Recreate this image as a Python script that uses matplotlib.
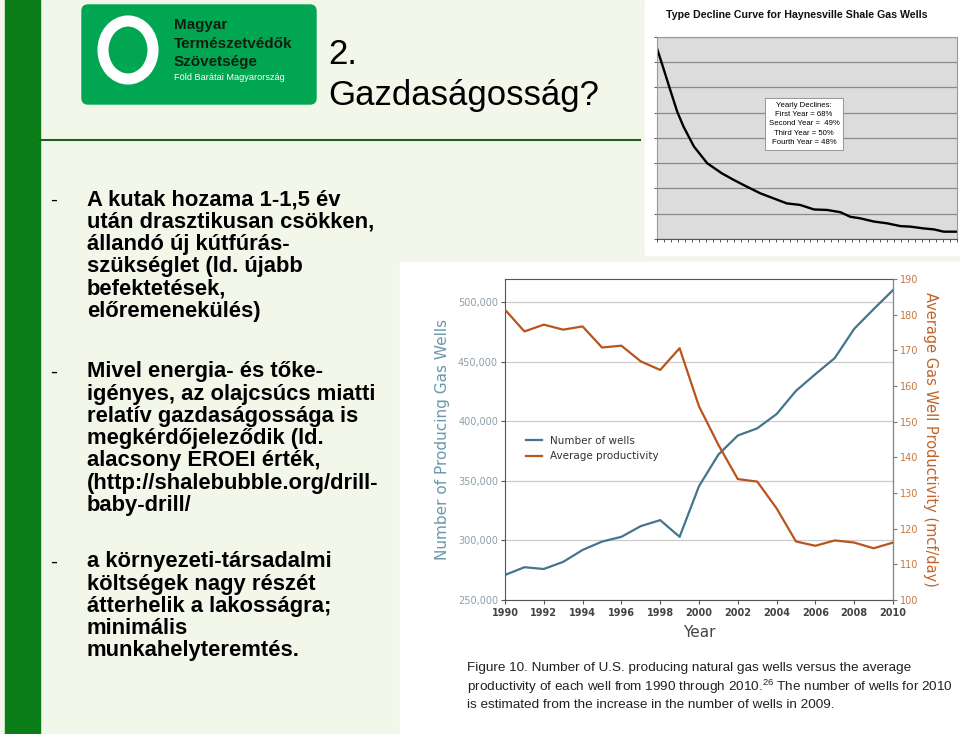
import matplotlib
matplotlib.use("Agg")
import matplotlib.pyplot as plt
from matplotlib.patches import Rectangle, FancyBboxPatch, Ellipse

plt.rcParams['font.family'] = ['Liberation Sans', 'DejaVu Sans']
plt.rcParams['mathtext.fontset'] = 'custom'
plt.rcParams['mathtext.rm'] = 'Liberation Sans'

# ---------------- data ----------------
years = list(range(1990, 2011))
num_wells = [271000, 277500, 276000, 282000, 292000, 299000, 303000, 312000, 317000,
             303000, 345500, 372000, 388000, 394000, 406000, 425500, 439500, 453000,
             477500, 494000, 510000]
avg_productivity = [181.4, 175.3, 177.2, 175.8, 176.7, 170.8, 171.3, 166.9, 164.5,
                    170.6, 154.3, 143.5, 133.9, 133.2, 125.7, 116.4, 115.2, 116.7,
                    116.1, 114.5, 116.1]
left_ticks = [250000, 300000, 350000, 400000, 450000, 500000]
right_ticks = [100, 110, 120, 130, 140, 150, 160, 170, 180, 190]
year_ticks = list(range(1990, 2011, 2))

decline_t = [0, 1, 1.9, 2.9, 3.8, 5.3, 7.2, 9.3, 11, 12.4, 14.8, 16.7, 18.6, 20.5,
             22.5, 24.4, 26.3, 27.7, 29.1, 31.1, 33, 34.9, 36.3, 38.2, 39.7, 41.1, 43]
decline_q = [7.55, 6.69, 5.9, 5.04, 4.45, 3.66, 3.0, 2.6, 2.34, 2.14, 1.81, 1.61, 1.41,
             1.35, 1.17, 1.15, 1.06, 0.88, 0.82, 0.69, 0.62, 0.51, 0.49, 0.42, 0.38,
             0.29, 0.29]
decline_box = "Yearly Declines:\nFirst Year = 68%\nSecond Year =  49%\nThird Year = 50%\nFourth Year = 48%"

bullets = [
    (200, ["A kutak hozama 1-1,5 év", "után drasztikusan csökken,", "állandó új kútfúrás-",
           "szükséglet (ld. újabb", "befektetések,", "előremenekülés)"]),
    (372, ["Mivel energia- és tőke-", "igényes, az olajcsúcs miatti", "relatív gazdaságossága is",
           "megkérdőjeleződik (ld.", "alacsony EROEI érték,", "(http://shalebubble.org/drill-",
           "baby-drill/"]),
    (562, ["a környezeti-társadalmi", "költségek nagy részét", "átterhelik a lakosságra;",
           "minimális", "munkahelyteremtés."]),
]
caption = ["Figure 10. Number of U.S. producing natural gas wells versus the average",
           r"productivity of each well from 1990 through 2010.$^{26}$ The number of wells for 2010",
           "is estimated from the increase in the number of wells in 2009."]

W, H = 960, 734
fig = plt.figure(figsize=(W / 100, H / 100), dpi=100)


def rect(x0, y0, x1, y1):
    return [x0 / W, 1 - y1 / H, (x1 - x0) / W, (y1 - y0) / H]


# ---------------- slide background ----------------
bg = fig.add_axes([0, 0, 1, 1])
bg.set_xlim(0, W)
bg.set_ylim(H, 0)
bg.axis('off')
bg.add_patch(Rectangle((0, 0), W, H, color='#f3f7ea', zorder=0))
bg.add_patch(Rectangle((5, 0), 35, H, color='#0b7d18', zorder=1))
bg.plot([40, 640], [140, 140], color='#1f5f1f', lw=1.5, zorder=1)

# logo
bg.add_patch(FancyBboxPatch((82, 5), 234, 99, boxstyle='round,pad=0,rounding_size=6',
                            color='#00a651', zorder=2))
bg.add_patch(Ellipse((128, 50), 50, 58, fill=False, ec='white', lw=8, zorder=3))
bg.text(174, 25, "Magyar", fontsize=11, fontweight='bold', color='#102010', va='center', zorder=4)
bg.text(174, 44, "Természetvédők", fontsize=11, fontweight='bold', color='#102010', va='center', zorder=4)
bg.text(174, 62, "Szövetsége", fontsize=11, fontweight='bold', color='#102010', va='center', zorder=4)
bg.text(174, 78, "Föld Barátai Magyarország", fontsize=6.6, color='white', va='center', zorder=4)

# title
bg.text(328, 55, "2.", fontsize=25, color='black', va='center', zorder=4)
bg.text(328, 95, "Gazdaságosság?", fontsize=25, color='black', va='center', zorder=4)

# bullets
for y0, lines in bullets:
    bg.text(50, y0, "-", fontsize=15, color='black', va='center', zorder=4)
    for i, ln in enumerate(lines):
        bg.text(87, y0 + i * 22.2, ln, fontsize=15.8, fontweight='bold', color='black',
                va='center', zorder=4)

# white panels
bg.add_patch(Rectangle((645, 0), W - 645, 255, color='white', zorder=2))
bg.add_patch(Rectangle((400, 262), W - 400, H - 262, color='white', zorder=5))

# caption
for i, ln in enumerate(caption):
    bg.text(467, 668 + i * 18.5, ln, fontsize=9.7, color='#222222', va='center', zorder=6)

# top-right decline curve title
bg.text(797, 15, "Type Decline Curve for Haynesville Shale Gas Wells",
        fontsize=7.7, fontweight='bold', color='#111111', ha='center', va='center', zorder=4)

# ---------------- decline chart ----------------
ad = fig.add_axes(rect(657, 37, 957, 239))
ad.set_facecolor('#dcdcdc')
ad.plot(decline_t, decline_q, color='black', lw=1.7, solid_joinstyle='round')
ad.set_xlim(0, 43)
ad.set_ylim(0, 8)
ad.set_yticks(range(0, 9))
ad.set_xticks(range(0, 44))
ad.set_yticklabels([])
ad.set_xticklabels([])
ad.tick_params(axis='both', length=2, width=0.7, color='#555555')
ad.grid(axis='y', color='#8a8a8a', lw=0.9)
ad.set_axisbelow(True)
for s in ['top', 'right', 'left']:
    ad.spines[s].set_color('#9a9a9a')
ad.spines['bottom'].set_color('#555555')
ad.text(0.49, 0.57, decline_box, transform=ad.transAxes, ha='center', va='center',
        fontsize=5.6, linespacing=1.45,
        bbox=dict(boxstyle='square,pad=0.5', fc='white', ec='#888888', lw=0.6))

# ---------------- main chart ----------------
ax = fig.add_axes(rect(505, 279, 893, 600))
ax2 = ax.twinx()
l1, = ax.plot(years, num_wells, color='#43758c', lw=1.6, label='Number of wells')
l2, = ax2.plot(years, avg_productivity, color='#b8541d', lw=1.6, label='Average productivity')
ax.set_xlim(1990, 2010)
ax.set_ylim(250000, 519300)
ax2.set_ylim(100, 190)
ax.set_yticks(left_ticks)
ax.set_yticklabels([f"{v:,}" for v in left_ticks])
ax2.set_yticks(right_ticks)
ax.set_xticks(year_ticks)
ax.grid(axis='y', color='#cccccc', lw=0.9)
ax.set_axisbelow(True)
ax.tick_params(axis='y', labelsize=7, labelcolor='#8aa0aa', length=3, color='#555555', pad=2)
ax.tick_params(axis='x', labelsize=7, labelcolor='#444444', length=3, color='#555555', pad=3)
ax2.tick_params(axis='y', labelsize=7, labelcolor='#c27a45', length=3, color='#777777', pad=2)
for lab in ax.get_xticklabels():
    lab.set_fontweight('bold')
for s in ['top', 'left', 'bottom']:
    ax.spines[s].set_color('#555555')
ax2.spines['right'].set_color('#888888')
ax2.spines['top'].set_visible(False)
ax2.spines['left'].set_visible(False)
ax2.spines['bottom'].set_visible(False)
ax.set_xlabel("Year", fontsize=11, color='#444444', labelpad=5, family='DejaVu Sans')
ax.set_ylabel("Number of Producing Gas Wells", fontsize=11, color='#6a98a8', labelpad=6,
              family='DejaVu Sans')
ax2.set_ylabel("Average Gas Well Productivity (mcf/day)", fontsize=10.5, color='#c0652a',
               rotation=270, labelpad=14, family='DejaVu Sans')
for t in ax.get_yticklabels() + ax.get_xticklabels() + ax2.get_yticklabels():
    t.set_family('DejaVu Sans')
ax.legend([l1, l2], ['Number of wells', 'Average productivity'], loc='upper left',
          bbox_to_anchor=(0.03, 0.54), frameon=False, handlelength=1.5,
          labelcolor='#333333', prop={'family': 'DejaVu Sans', 'size': 7.5})

fig.savefig('out.png', dpi=100)
